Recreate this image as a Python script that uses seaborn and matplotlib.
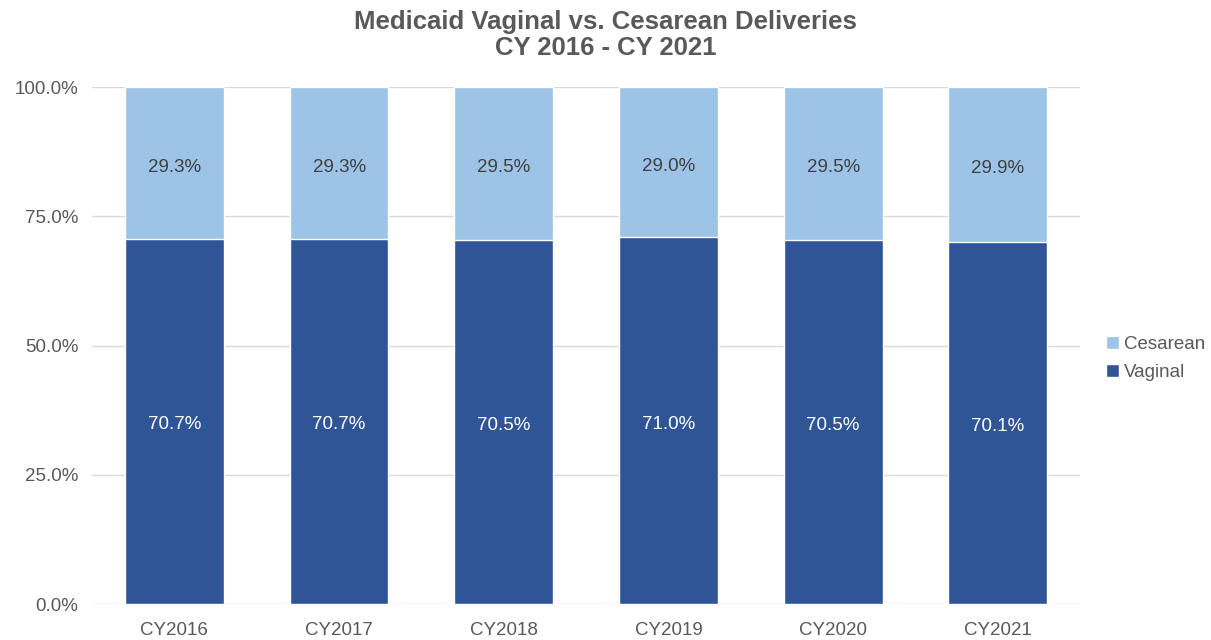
import matplotlib
matplotlib.use("Agg")
import matplotlib.pyplot as plt
import seaborn as sns
import pandas as pd
from matplotlib.patches import Patch
from matplotlib.ticker import FuncFormatter

# DATA
YEARS = ["CY2016", "CY2017", "CY2018", "CY2019", "CY2020", "CY2021"]
VAGINAL = [70.7, 70.7, 70.5, 71.0, 70.5, 70.1]
CESAREAN = [29.3, 29.3, 29.5, 29.0, 29.5, 29.9]

DARK = "#2F5597"
LIGHT = "#9DC3E6"
GREY = "#595959"

sns.set_theme(style="white")
plt.rcParams["font.family"] = ["Liberation Sans", "DejaVu Sans"]

df = pd.DataFrame({"year": YEARS, "vaginal": VAGINAL, "cesarean": CESAREAN})
df["total"] = df["vaginal"] + df["cesarean"]

fig = plt.figure(figsize=(12.11, 6.40), dpi=100)
ax = fig.add_axes([0.076, 0.056, 0.816, 0.808])

# stacked bars: full height in light blue, vaginal part over it
sns.barplot(data=df, x="year", y="total", color=LIGHT, width=0.6, saturation=1, ax=ax, zorder=2)
sns.barplot(data=df, x="year", y="vaginal", color=DARK, width=0.6, saturation=1, ax=ax, zorder=3)

for i, (v, c) in enumerate(zip(VAGINAL, CESAREAN)):
    ax.text(i, v / 2 - 0.3, f"{v:.1f}%", ha="center", va="center_baseline", color="white", fontsize=13.5, zorder=4)
    ax.text(i, v + c / 2 - 0.5, f"{c:.1f}%", ha="center", va="center_baseline", color="#404040", fontsize=13.5, zorder=4)

ax.set_xlim(-0.5, 5.5)
ax.set_ylim(0, 100)
ax.set_yticks([0, 25, 50, 75, 100])
ax.yaxis.set_major_formatter(FuncFormatter(lambda y, _: f"{y:.1f}%"))
ax.yaxis.grid(True, color="#D9D9D9", linewidth=1, zorder=0)
ax.set_axisbelow(True)
for s in ["top", "right", "left", "bottom"]:
    ax.spines[s].set_visible(False)
ax.tick_params(axis="y", length=0, labelsize=13.5, labelcolor=GREY, pad=10)
ax.tick_params(axis="x", length=0, labelsize=13.5, labelcolor=GREY, pad=13)
ax.set_xlabel("")
ax.set_ylabel("")

fig.suptitle("Medicaid Vaginal vs. Cesarean Deliveries\nCY 2016 - CY 2021",
             fontsize=18.5, fontweight="bold", color=GREY, y=0.984, linespacing=1.1)

handles = [Patch(facecolor=LIGHT, label="Cesarean"), Patch(facecolor=DARK, label="Vaginal")]
fig.legend(handles=handles, loc="center left", bbox_to_anchor=(0.899, 0.44), frameon=False,
           fontsize=13.5, labelcolor=GREY, handlelength=0.7, handleheight=0.7, handletextpad=0.3,
           labelspacing=0.6)

plt.savefig("out.png", dpi=100)
